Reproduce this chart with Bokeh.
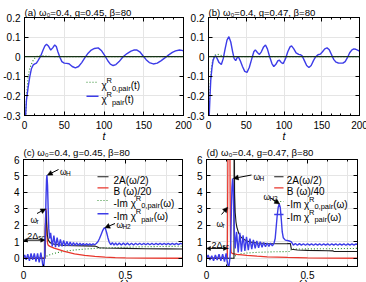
import numpy as np
from bokeh.plotting import figure
from bokeh.models import (Range1d, FixedTicker, LinearAxis, Label, Arrow, NormalHead,
                          Span, PrintfTickFormatter, CustomJSTickFormatter)
from bokeh.layouts import row, column
from bokeh.embed import file_html
from bokeh.resources import INLINE

FONT = "Liberation Sans"
BLUE = "#3c3ce8"
RED = "#e8362c"
GREEN = "#2a8a2a"
BLACK = "#1a1a1a"

# ---------------- time domain: chi_pair(t) ----------------
T_TICKS = [0, 50, 100, 150, 200]
CHI_TICKS = [-0.3, -0.2, -0.1, 0, 0.1, 0.2]

# (a) g = 0.45
A_T = [0, 1, 2.5, 4.6, 6.7, 8.8, 11, 13, 15, 17, 20, 23.5, 25.6, 27.7, 30, 33, 35.5, 38, 40, 42,
       44.5, 47, 50, 53, 56, 60, 64, 68, 72, 76, 80, 84, 88, 92.7, 97, 101, 105, 108, 111.5, 115,
       119, 124, 129, 134, 137.5, 141, 145, 149, 153, 157, 162, 167, 172, 177, 181, 186, 190, 195, 198, 200]
A_PAIR = [-0.6, -0.33, -0.22, -0.155, -0.10, -0.06, -0.042, -0.037, -0.033, -0.02,
          0.0, 0.035, 0.055, 0.064, 0.055, 0.034, 0.045, 0.06, 0.052, 0.025,
          -0.003, -0.025, -0.033, -0.034, -0.036, -0.05, -0.057, -0.05, -0.03, -0.005,
          0.018, 0.034, 0.042, 0.045, 0.03, 0.005, -0.022, -0.038, -0.045, -0.04,
          -0.025, 0.0, 0.016, 0.028, 0.034, 0.035, 0.025, 0.005, -0.015, -0.03,
          -0.037, -0.033, -0.02, -0.005, 0.008, 0.022, 0.03, 0.034, 0.032, 0.03]
A0_T = [0, 1, 2, 3, 4.6, 6.5, 8.8, 11, 13, 16, 20, 25, 30, 40, 200]
A0_CHI = [-0.6, -0.4, -0.26, -0.18, -0.1, -0.06, -0.037, -0.018, -0.007, 0.002, 0.005, 0.004, 0.002, 0.0, 0.0]

# (b) g = 0.47
B_T = [0, 1, 2, 3, 4.5, 6, 8, 9.5, 11.5, 14, 17, 19.5, 22, 24.5, 27, 29.5, 32, 34, 36, 38,
       39.5, 42, 45, 48, 51, 54, 57, 60, 62, 65, 67.5, 70, 73, 75.5, 78, 81, 84, 86.5, 89, 92,
       94, 96.5, 99, 102, 105, 108, 110, 113, 116, 119.5, 122, 124, 127, 130, 133, 136, 139, 142, 145, 148,
       151, 154, 157, 160, 163, 166, 169, 172, 175, 178, 181, 184, 187, 190, 192.5, 195, 198, 200]
B_PAIR = [-0.6, -0.3, -0.2, -0.12, -0.06, -0.02, 0.0, 0.005, -0.01, -0.03,
          -0.04, -0.01, 0.04, 0.085, 0.102, 0.075, 0.025, -0.01, -0.02, -0.005,
          0.0, -0.02, -0.05, -0.075, -0.08, -0.055, -0.015, 0.025, 0.035, 0.02,
          0.012, 0.025, 0.05, 0.06, 0.04, 0.0, -0.035, -0.05, -0.04, -0.02,
          -0.018, -0.03, -0.035, -0.01, 0.025, 0.05, 0.055, 0.04, 0.02, 0.012,
          0.01, 0.005, -0.02, -0.045, -0.055, -0.045, -0.02, 0.0, 0.01, 0.013,
          0.025, 0.04, 0.045, 0.035, 0.01, -0.015, -0.028, -0.032, -0.033, -0.033,
          -0.025, -0.005, 0.02, 0.035, 0.04, 0.038, 0.032, 0.028]
B0_T = [0, 0.8, 1.5, 2.5, 3.5, 5, 6.5, 8, 12, 16, 20, 30, 200]
B0_CHI = [-0.6, -0.3, -0.2, -0.12, -0.07, -0.03, -0.005, 0.008, 0.012, 0.008, 0.003, 0.0, 0.0]

# ---------------- frequency domain ----------------
W_TICKS = [0, 0.5]
S_TICKS = [0, 1, 2, 3, 4, 5, 6]

# (c) g = 0.45
GAP_C = 0.104
C_W = [0, 0.006, 0.013, 0.021, 0.029, 0.037, 0.045, 0.053, 0.061, 0.069,
       0.077, 0.085, 0.091, 0.096, 0.1, 0.104, 0.107, 0.110, 0.113, 0.115,
       0.118, 0.121, 0.124, 0.128,
       0.133, 0.141, 0.149, 0.157, 0.165, 0.173, 0.181, 0.189, 0.197, 0.205,
       0.213, 0.221, 0.229, 0.237, 0.245, 0.253, 0.261, 0.269, 0.277, 0.285,
       0.293, 0.301, 0.309, 0.317, 0.325, 0.333, 0.341, 0.349, 0.357, 0.365,
       0.373, 0.381, 0.389, 0.396, 0.402, 0.408, 0.414, 0.42, 0.428, 0.436,
       0.444, 0.452, 0.46, 0.47, 0.48, 0.49, 0.5, 0.51, 0.52, 0.53,
       0.54, 0.55, 0.56, 0.57, 0.58, 0.59, 0.6, 0.61, 0.62, 0.63,
       0.64, 0.65, 0.66, 0.67, 0.68, 0.69, 0.7, 0.71, 0.72, 0.73,
       0.74, 0.75, 0.76, 0.77, 0.78]
C_PAIR = [0.05, 0.2, -0.1, 0.25, -0.15, 0.3, -0.1, 0.3, -0.2, 0.3,
          -0.25, 0.35, -0.1, -0.55, -0.45, 0.2, 1.5, 3.5, 4.8, 5.05,
          4.4, 3.0, 1.8, 1.2,
          1.55, 0.72, 1.38, 0.68, 1.25, 0.7, 1.15, 0.72, 1.08, 0.74,
          1.02, 0.76, 0.98, 0.77, 0.95, 0.78, 0.93, 0.78, 0.91, 0.79,
          0.9, 0.79, 0.89, 0.8, 0.88, 0.8, 0.88, 0.82, 0.9, 1.0,
          1.2, 1.45, 1.7, 1.85, 1.8, 1.55, 1.25, 1.0, 0.82, 0.95,
          0.8, 0.93, 0.8, 0.92, 0.8, 0.92, 0.81, 0.92, 0.81, 0.91,
          0.81, 0.91, 0.82, 0.91, 0.82, 0.9, 0.82, 0.9, 0.82, 0.9,
          0.82, 0.9, 0.83, 0.9, 0.83, 0.9, 0.83, 0.9, 0.83, 0.9,
          0.83, 0.9, 0.83, 0.9, 0.86]
C_A_W = [0, 0.105, 0.107, 0.11, 0.113, 0.117, 0.122, 0.13, 0.15, 0.2, 0.25, 0.3, 0.35, 0.36, 0.37, 0.4, 0.5, 0.6, 0.7, 0.78]
C_A = [0, 0, 1.8, 2.9, 2.2, 1.4, 1.1, 0.95, 0.85, 0.78, 0.76, 0.75, 0.74, 0.7, 0.64, 0.62, 0.6, 0.58, 0.57, 0.56]
C_B_W = [0, 0.104, 0.106, 0.108, 0.111, 0.113, 0.115, 0.118, 0.122, 0.13, 0.15, 0.17, 0.2, 0.25, 0.3, 0.35, 0.4, 0.45, 0.5, 0.6, 0.78]
C_B = [0, 0, 1.2, 2.4, 3.0, 2.4, 1.4, 0.9, 0.78, 0.72, 0.62, 0.54, 0.42, 0.27, 0.18, 0.11, 0.07, 0.04, 0.025, 0.01, 0.0]
C_0_W = [0, 0.104, 0.11, 0.12, 0.13, 0.15, 0.2, 0.25, 0.3, 0.35, 0.4, 0.5, 0.6, 0.7, 0.78]
C_0 = [0, 0, 0.1, 0.17, 0.22, 0.3, 0.42, 0.5, 0.56, 0.6, 0.63, 0.67, 0.7, 0.72, 0.73]

# (d) g = 0.47
GAP_D = 0.104
D_W = [0, 0.008, 0.017, 0.026, 0.035, 0.044, 0.053, 0.062, 0.071, 0.08,
       0.089, 0.097, 0.104, 0.11, 0.116, 0.12, 0.123, 0.126, 0.129, 0.132,
       0.135, 0.138, 0.142,
       0.149, 0.157, 0.165, 0.173, 0.181, 0.19, 0.198, 0.207, 0.215, 0.224,
       0.232, 0.241, 0.249, 0.258, 0.266, 0.275, 0.283, 0.292, 0.3, 0.309,
       0.317, 0.326, 0.334, 0.34, 0.345, 0.35, 0.355, 0.36, 0.365, 0.37,
       0.375, 0.38, 0.39, 0.4, 0.41, 0.42,
       0.43, 0.44, 0.45, 0.46, 0.47, 0.48, 0.49, 0.5, 0.51, 0.52,
       0.53, 0.54, 0.55, 0.56, 0.57, 0.58, 0.59, 0.6, 0.61, 0.62,
       0.63, 0.64, 0.65, 0.66, 0.67, 0.68, 0.69, 0.7, 0.71, 0.72,
       0.73, 0.74, 0.75]
D_PAIR = [0.0, 0.2, -0.1, 0.15, -0.15, 0.2, -0.1, 0.25, -0.15, 0.25,
          -0.2, 0.3, -0.3, -0.6, 0.0, 1.0, 2.8, 4.3, 4.85, 4.4,
          3.0, 1.6, 0.6,
          1.6, 0.35, 1.55, 0.4, 1.4, 0.45, 1.3, 0.5, 1.2, 0.55,
          1.12, 0.6, 1.05, 0.64, 1.0, 0.67, 0.96, 0.7, 0.93, 0.72,
          0.92, 0.75, 0.9, 1.2, 1.9, 2.6, 3.1, 3.3, 3.1, 2.4,
          1.6, 1.25, 1.1, 1.08, 1.05, 1.0,
          0.8, 0.9, 0.79, 0.89, 0.8, 0.88, 0.79, 0.88, 0.8, 0.87,
          0.79, 0.87, 0.8, 0.87, 0.79, 0.87, 0.8, 0.87, 0.79, 0.87,
          0.8, 0.87, 0.79, 0.87, 0.8, 0.87, 0.79, 0.87, 0.8, 0.87,
          0.8, 0.87, 0.84]
D_A_W = [0, 0.136, 0.137, 0.139, 0.142, 0.146, 0.15, 0.16, 0.17, 0.18, 0.2, 0.22, 0.25, 0.3, 0.35,
         0.4, 0.415, 0.42, 0.45, 0.5, 0.6, 0.625, 0.63, 0.75]
D_A = [0, 0, 12.0, 4.0, 2.8, 2.2, 1.9, 1.5, 1.3, 1.18, 1.05, 0.98, 0.93, 0.9, 0.88,
       0.89, 0.9, 0.55, 0.5, 0.48, 0.46, 0.45, 0.42, 0.41]
D_B_W = [0, 0.103, 0.105, 0.107, 0.111, 0.115, 0.117, 0.119, 0.122, 0.13, 0.15, 0.2, 0.25, 0.3, 0.4, 0.5, 0.6, 0.75]
D_B = [0, 0, 4.0, 9.0, 12.0, 9.0, 4.0, 1.0, 0.35, 0.28, 0.24, 0.18, 0.13, 0.09, 0.05, 0.025, 0.01, 0.0]
D_0_W = [0, 0.136, 0.14, 0.15, 0.17, 0.2, 0.25, 0.3, 0.35, 0.415, 0.42, 0.5, 0.6, 0.75]
D_0 = [0, 0, 0.12, 0.2, 0.27, 0.32, 0.36, 0.38, 0.4, 0.41, 0.56, 0.57, 0.58, 0.6]

# Arial-compatible advance widths (1/1000 em) for composing sub/superscripts
ADV = {' ': 278, '(': 333, ')': 333, '-': 333, '.': 278, ',': 278, '/': 278, '=': 584,
       'A': 667, 'B': 667, 'H': 722, 'I': 278, 'R': 722, 'a': 556, 'b': 556, 'c': 500,
       'g': 556, 'i': 222, 'm': 833, 'p': 556, 'r': 333, 's': 500, 't': 278,
       'ω': 692, 'β': 575, 'χ': 500, 'Δ': 668}

EM = "\u2003"  # em space, pushes the ω axis label right of centre


def text_width(s, size):
    return sum(ADV.get(ch, 556) for ch in s) * size / 1000.0


class Panel:
    def __init__(self, fw, fh, border, xr, yr, title_text, title_standoff, shift=0):
        bl, br, bt, bb = border
        self.fw, self.fh = fw, fh
        self.xr, self.yr = xr, yr
        p = figure(frame_width=fw, frame_height=fh, x_range=Range1d(*xr), y_range=Range1d(*yr),
                   output_backend="svg", toolbar_location=None, title=title_text,
                   min_border_left=bl, min_border_right=br,
                   min_border_top=bt, min_border_bottom=bb,
                   x_axis_location=None, y_axis_location=None)
        p.title.text_font = FONT
        p.title.text_font_size = "9.6px"
        p.title.text_font_style = "normal"
        p.title.text_color = "black"
        p.title.align = "left"
        p.title.offset = 0
        p.title.standoff = title_standoff
        p.outline_line_color = "black"
        p.background_fill_color = "white"
        p.border_fill_color = None
        if shift:
            p.margin = (0, 0, 0, -shift)
        self.p = p

    def fx(self, px):
        return self.xr[0] + px / self.fw * (self.xr[1] - self.xr[0])

    def fy(self, py):
        return self.yr[1] - py / self.fh * (self.yr[1] - self.yr[0])

    def axes(self, xt, xm, yt, ym, xlabel, xstand, label_size, label_stand):
        for loc, ticks, minor, show in (("below", xt, xm, True), ("above", xt, xm, False),
                                        ("left", yt, ym, True), ("right", yt, ym, False)):
            ax = LinearAxis(ticker=FixedTicker(ticks=ticks, minor_ticks=minor),
                            axis_line_color="black", axis_line_width=1,
                            major_tick_in=4, major_tick_out=0,
                            minor_tick_in=2, minor_tick_out=0,
                            major_tick_line_color="black", minor_tick_line_color="black",
                            major_label_text_font=FONT,
                            major_label_text_color="black")
            if show:
                ax.formatter = PrintfTickFormatter(format="%g")
                ax.major_label_text_font_size = "10px"
                ax.major_label_standoff = xstand if loc == "below" else 4
            else:
                ax.formatter = CustomJSTickFormatter(code="return ''")
                ax.major_label_text_font_size = "1px"
                ax.major_label_standoff = 0
            if loc == "below":
                ax.axis_label = xlabel
                ax.axis_label_text_font = FONT
                ax.axis_label_text_font_style = "italic"
                ax.axis_label_text_font_size = label_size
                ax.axis_label_text_color = "black"
                ax.axis_label_standoff = label_stand
            self.p.add_layout(ax, loc)

    def rich(self, px, py, parts):
        x = px
        for txt, size, dy in parts:
            self.p.add_layout(Label(x=self.fx(x), y=self.fy(py + dy), text=txt,
                                    text_font=FONT, text_font_size=f"{size}px",
                                    text_color="black",
                                    text_align="left", text_baseline="alphabetic"))
            x += text_width(txt, size)

    def sample(self, px0, px1, py, **kw):
        self.p.line([self.fx(px0), self.fx(px1)], [self.fy(py), self.fy(py)], **kw)

    def arrow(self, px0, py0, x1, y1):
        self.p.add_layout(Arrow(end=NormalHead(size=5, fill_color="black", line_color="black", line_width=0.5),
                                x_start=self.fx(px0), y_start=self.fy(py0), x_end=x1, y_end=y1,
                                line_color="black", line_width=1))

    def gap_arrow(self, gap, level):
        self.p.add_layout(Arrow(start=NormalHead(size=4, fill_color="black", line_color="black", line_width=0.5),
                                end=NormalHead(size=4, fill_color="black", line_color="black", line_width=0.5),
                                x_start=0, y_start=level, x_end=gap, y_end=level,
                                line_color="black", line_width=1))


STYLE_B = dict(line_color=BLUE, line_width=1.4)
STYLE_0 = dict(line_color=GREEN, line_width=1.1, line_dash="1 2")
STYLE_R = dict(line_color=RED, line_width=1.3)
STYLE_K = dict(line_color=BLACK, line_width=1.1)

T_MINOR = list(np.arange(0, 200.1, 12.5))
W_MINOR = list(np.arange(0, 0.8, 0.1))

# ---------------- (a) ----------------
pa = Panel(159, 98, (23, 18, 17, 26), (0, 200), (-0.3, 0.2),
           "(a) ω₀=0.4, g=0.45, β=80", 0)
pa.axes(T_TICKS, T_MINOR, CHI_TICKS, [], "t", 5, "10.5px", -2)
pa.p.add_layout(Span(location=0, dimension="width", line_color="#173317", line_width=1.3))
pa.p.line(A0_T, A0_CHI, **STYLE_0)
pa.p.line(A_T, A_PAIR, **STYLE_B)
pa.sample(62, 74, 64.7, **STYLE_0)
pa.sample(62, 74, 78.7, **STYLE_B)
pa.rich(77, 68, [("χ", 10, 0), ("R", 7.5, -5), ("0,pair", 7.5, 2.5), ("(t)", 10, 0)])
pa.rich(77, 82, [("χ", 10, 0), ("R", 7.5, -5), ("pair", 7.5, 2.5), ("(t)", 10, 0)])

# ---------------- (b) ----------------
pb = Panel(151, 98, (23, 9, 17, 26), (0, 200), (-0.3, 0.2),
           "(b) ω₀=0.4, g=0.47, β=80", 0, shift=17)
pb.axes(T_TICKS, T_MINOR, CHI_TICKS, [], "t", 5, "10.5px", -2)
pb.p.add_layout(Span(location=0, dimension="width", line_color="#173317", line_width=1.3))
pb.p.line(B0_T, B0_CHI, **STYLE_0)
pb.p.line(B_T, B_PAIR, **STYLE_B)

# ---------------- (c) ----------------
pc = Panel(159, 107, (23, 18, 21, 19), (0, 0.78), (-0.5, 6),
           "(c) ω₀=0.4, g=0.45, β=80", 3)
pc.axes(W_TICKS, W_MINOR, S_TICKS, [], EM * 4 + "ω", 4, "10.5px", -6)
pc.p.line(C_0_W, C_0, **STYLE_0)
pc.p.line(C_B_W, C_B, **STYLE_R)
pc.p.line(C_A_W, C_A, **STYLE_K)
pc.p.line(C_W, C_PAIR, **STYLE_B)
i_h = int(np.argmax(C_PAIR))
i_h2 = int(np.argmax([v if w > 0.3 else -9 for w, v in zip(C_W, C_PAIR)]))
i_r = int(np.argmax(C_B))
pc.arrow(35, 10, C_W[i_h] + 0.002, C_PAIR[i_h])
pc.rich(36.5, 12, [("ω", 8.5, 0), ("H", 6.5, 2)])
pc.arrow(13.5, 54, C_B_W[i_r] - 0.002, C_B[i_r])
pc.rich(7, 60, [("ω", 8.5, 0), ("r", 6.5, 2)])
pc.arrow(91.5, 64, C_W[i_h2] + 0.003, C_PAIR[i_h2])
pc.rich(93, 65, [("ω", 8.5, 0), ("H2", 6.5, 2)])
pc.gap_arrow(GAP_C, 1.1)
pc.rich(3.7, 76, [("2Δ", 9, 0), ("sc", 6.5, 2)])
LEG_C = [(17.3, 21), (28.3, 32), (41, 43.5), (54.3, 57)]
pc.sample(74, 85, LEG_C[0][0], **STYLE_K)
pc.sample(74, 85, LEG_C[1][0], **STYLE_R)
pc.sample(74, 85, LEG_C[2][0], **STYLE_0)
pc.sample(74, 85, LEG_C[3][0], **STYLE_B)
pc.rich(90, LEG_C[0][1], [("2A(ω/2)", 10, 0)])
pc.rich(90, LEG_C[1][1], [("B (ω)/20", 10, 0)])
pc.rich(90, LEG_C[2][1], [("-Im χ", 10, 0), ("R", 7.5, -5), ("0,pair", 7.5, 2.5), ("(ω)", 10, 0)])
pc.rich(90, LEG_C[3][1], [("-Im χ", 10, 0), ("R", 7.5, -5), ("pair", 7.5, 2.5), ("(ω)", 10, 0)])

# ---------------- (d) ----------------
pd = Panel(151, 107, (23, 9, 21, 19), (0, 0.7475), (-0.5, 6),
           "(d) ω₀=0.4, g=0.47, β=80", 3, shift=17)
pd.axes(W_TICKS, W_MINOR, S_TICKS, [], EM * 4 + "ω", 4, "10.5px", -6)
pd.p.line(D_0_W, D_0, **STYLE_0)
pd.p.line(D_B_W, D_B, **STYLE_R)
pd.p.line(D_A_W, D_A, **STYLE_K)
pd.p.line(D_W, D_PAIR, **STYLE_B)
j_h = int(np.argmax(D_PAIR))
j_h2 = int(np.argmax([v if w > 0.3 else -9 for w, v in zip(D_W, D_PAIR)]))
j_r = int(np.argmax(D_B))
pd.arrow(45, 15.5, D_W[j_h] + 0.004, D_PAIR[j_h])
pd.rich(47, 17, [("ω", 8.5, 0), ("H", 6.5, 2)])
pd.arrow(15, 55, D_B_W[j_r] - 0.006, 3.1)
pd.rich(10, 64.4, [("ω", 8.5, 0), ("r", 6.5, 2)])
pd.arrow(64, 38.5, D_W[j_h2] + 0.002, D_PAIR[j_h2])
pd.rich(57, 37, [("ω", 8.5, 0), ("H2", 6.5, 2)])
pd.gap_arrow(GAP_D, 0.6)
pd.rich(5, 85, [("2Δ", 9, 0), ("sc", 6.5, 2)])
LEG_D = [(17.3, 21), (28.3, 32), (42, 44.5), (55, 57.5)]
pd.sample(67.7, 77, LEG_D[0][0], **STYLE_K)
pd.sample(67.7, 77, LEG_D[1][0], **STYLE_R)
pd.sample(67.7, 77, LEG_D[2][0], **STYLE_0)
pd.sample(67.7, 77, LEG_D[3][0], **STYLE_B)
pd.rich(80.3, LEG_D[0][1], [("2A(ω/2)", 10, 0)])
pd.rich(80.3, LEG_D[1][1], [("B (ω)/40", 10, 0)])
pd.rich(80.3, LEG_D[2][1], [("-Im χ", 10, 0), ("R", 7.5, -5), ("0,pair", 7.5, 2.5), ("(ω)", 10, 0)])
pd.rich(80.3, LEG_D[3][1], [("-Im χ", 10, 0), ("R", 7.5, -5), ("pair", 7.5, 2.5), ("(ω)", 10, 0)])

top = row(pa.p, pb.p)
bottom = row(pc.p, pd.p, margin=(-6, 0, 0, 0))
layout = column(top, bottom, height=282, styles={"overflow": "hidden"})
open("out.html", "w").write(file_html(layout, INLINE))
